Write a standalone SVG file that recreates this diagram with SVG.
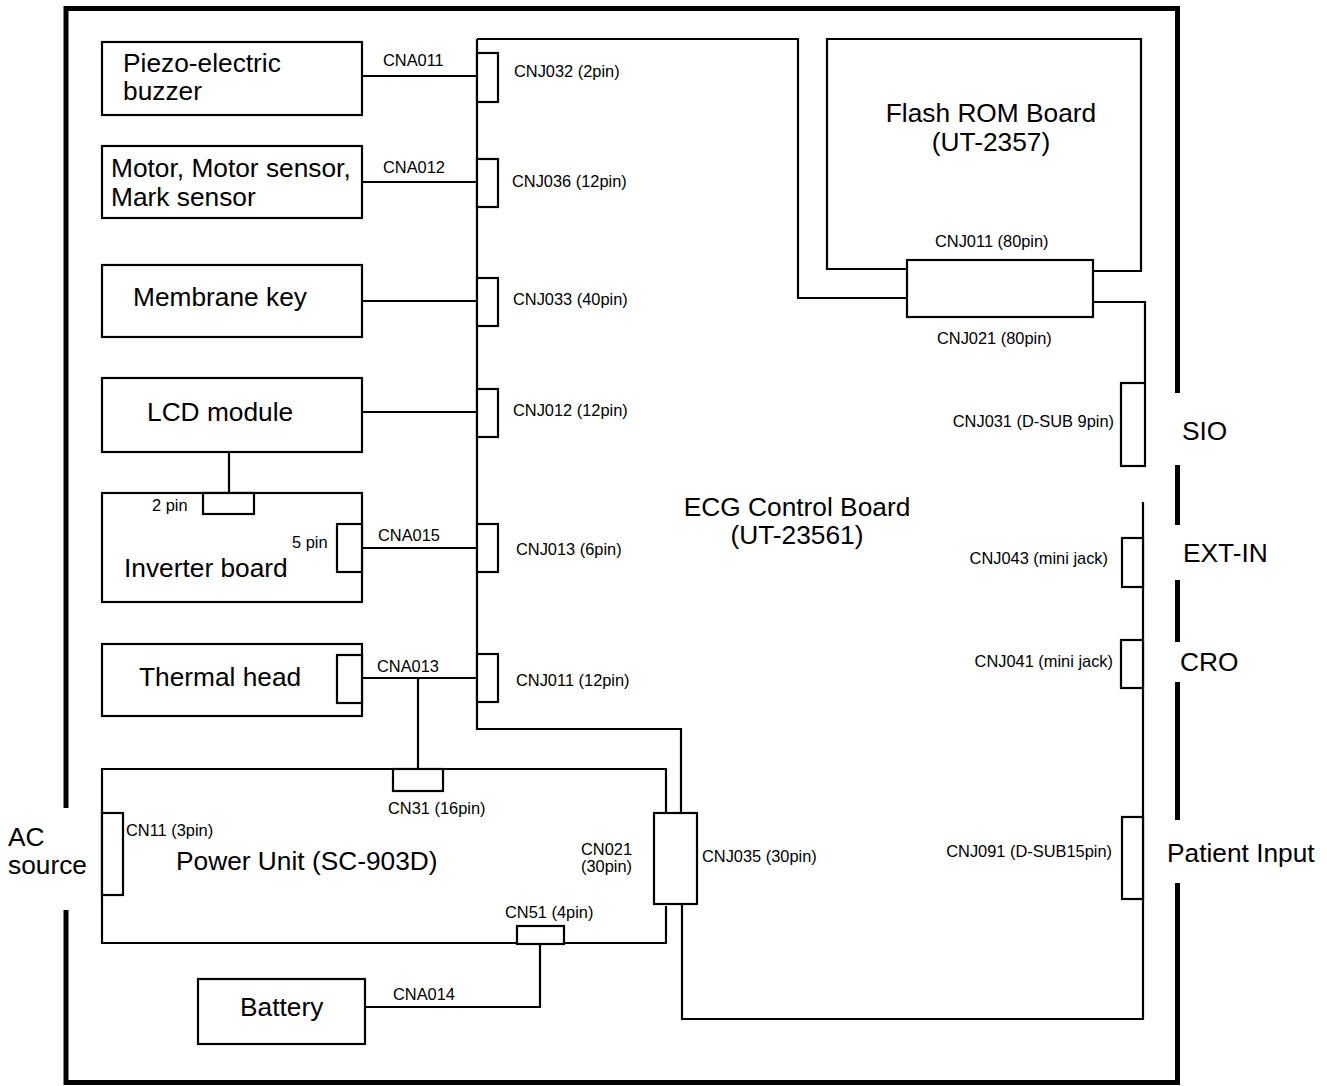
<svg xmlns="http://www.w3.org/2000/svg" width="1327" height="1086" viewBox="0 0 1327 1086">
<style>
.box{fill:#fff;stroke:#000;stroke-width:2.2}
.cn{fill:#fff;stroke:#000;stroke-width:2.2}
.w{fill:none;stroke:#000;stroke-width:2.2}
.fr{fill:none;stroke:#000;stroke-width:5}
.big{font-family:"Liberation Sans",Arial,sans-serif;font-size:26.3px;fill:#000}
.sm{font-family:"Liberation Sans",Arial,sans-serif;font-size:16.4px;fill:#000}
.mid{text-anchor:middle}
.end{text-anchor:end}
</style>
<rect width="1327" height="1086" fill="#fff"/>
<g id="frame">
<path class="fr" d="M66,808 V8.5 H1177.5 V393"/>
<path class="fr" d="M66,910 V1082.5 H1177.5 V883"/>
<path class="fr" d="M1177.5,465 V525 M1177.5,580 V642 M1177.5,682 V820"/>
</g>
<g id="connectors">
<path class="w" d="M477,39 V729 H681 V813"/>
<path class="w" d="M477,39 H798 V298 H907"/>
<path class="w" d="M362,76 H477 M362,182 H477 M362,301 H477 M362,412 H477 M362,548 H477 M362,678 H477"/>
<path class="w" d="M229,452 V493"/>
<path class="w" d="M418,678 V769"/>
<path class="w" d="M1093,302 H1145 V383"/>
<path class="w" d="M682,904 V1019 H1143 V502"/>
<path class="w" d="M540,944 V1007 H365"/>
</g>
<g id="piezo"><rect class="box" x="102" y="42" width="260" height="73"/>
<text class="big" x="123" y="72">Piezo-electric</text><text class="big" x="123" y="100">buzzer</text></g>
<g id="motor"><rect class="box" x="102" y="146" width="260" height="72"/>
<text class="big" x="111" y="177">Motor, Motor sensor,</text><text class="big" x="111" y="206">Mark sensor</text></g>
<g id="membrane"><rect class="box" x="102" y="265" width="260" height="72"/>
<text class="big" x="133" y="306">Membrane key</text></g>
<g id="lcd"><rect class="box" x="102" y="378" width="260" height="74"/>
<text class="big" x="147" y="421">LCD module</text></g>
<g id="inverter"><rect class="box" x="102" y="493" width="260" height="109"/>
<rect class="cn" x="203" y="493" width="51" height="21"/>
<rect class="cn" x="337" y="524" width="25" height="48"/>
<text class="sm" x="152" y="511">2 pin</text><text class="sm" x="292" y="548">5 pin</text>
<text class="big" x="124" y="577">Inverter board</text></g>
<g id="thermal"><rect class="box" x="102" y="644" width="260" height="72"/>
<rect class="cn" x="337" y="655" width="25" height="48"/>
<text class="big" x="139" y="686">Thermal head</text></g>
<g id="power"><path class="box" d="M666,812 V769 H102 V943 H666 V906"/>
<rect class="cn" x="393" y="769" width="50" height="22"/>
<rect class="cn" x="102" y="813" width="21" height="82"/>
<rect class="cn" x="517" y="926" width="47" height="18"/>
<text class="sm" x="388" y="814">CN31 (16pin)</text>
<text class="sm" x="126" y="836">CN11 (3pin)</text>
<text class="sm" x="505" y="918">CN51 (4pin)</text>
<text class="sm" x="581" y="855">CN021</text><text class="sm" x="581" y="872">(30pin)</text>
<text class="big" x="176" y="870">Power Unit (SC-903D)</text></g>
<g id="battery"><rect class="box" x="198" y="979" width="167" height="65"/>
<text class="big" x="240" y="1016">Battery</text></g>
<g id="flash"><path class="box" d="M907,269 H827 V39 H1141 V271 H1093"/>
<text class="big mid" x="991" y="122">Flash ROM Board</text><text class="big mid" x="991" y="151">(UT-2357)</text>
<rect class="cn" x="907" y="260" width="186" height="57"/>
<text class="sm" x="935" y="247">CNJ011 (80pin)</text><text class="sm" x="937" y="344">CNJ021 (80pin)</text></g>
<g id="ecg">
<text class="big mid" x="797" y="516">ECG Control Board</text><text class="big mid" x="797" y="544">(UT-23561)</text>
<rect class="cn" x="477" y="53" width="21" height="49"/><text class="sm" x="514" y="77">CNJ032 (2pin)</text>
<rect class="cn" x="477" y="159" width="21" height="48"/><text class="sm" x="512" y="187">CNJ036 (12pin)</text>
<rect class="cn" x="477" y="278" width="21" height="48"/><text class="sm" x="513" y="305">CNJ033 (40pin)</text>
<rect class="cn" x="477" y="389" width="21" height="48"/><text class="sm" x="513" y="416">CNJ012 (12pin)</text>
<rect class="cn" x="477" y="524" width="21" height="48"/><text class="sm" x="516" y="555">CNJ013 (6pin)</text>
<rect class="cn" x="477" y="654" width="21" height="48"/><text class="sm" x="516" y="686">CNJ011 (12pin)</text>
<rect class="cn" x="654" y="813" width="43" height="91"/><text class="sm" x="702" y="862">CNJ035 (30pin)</text>
<rect class="cn" x="1121" y="383" width="24" height="83"/><text class="sm end" x="1114" y="427">CNJ031 (D-SUB 9pin)</text>
<rect class="cn" x="1122" y="538" width="21" height="49"/><text class="sm end" x="1108" y="564">CNJ043 (mini jack)</text>
<rect class="cn" x="1121" y="640" width="22" height="48"/><text class="sm end" x="1113" y="667">CNJ041 (mini jack)</text>
<rect class="cn" x="1122" y="817" width="21" height="82"/><text class="sm end" x="1112" y="857">CNJ091 (D-SUB15pin)</text>
</g>
<g id="labels">
<text class="sm" x="383" y="66">CNA011</text>
<text class="sm" x="383" y="173">CNA012</text>
<text class="sm" x="378" y="541">CNA015</text>
<text class="sm" x="377" y="672">CNA013</text>
<text class="sm" x="393" y="1000">CNA014</text>
<text class="big" x="8" y="846">AC</text><text class="big" x="8" y="874">source</text>
<text class="big" x="1182" y="440">SIO</text>
<text class="big" x="1183" y="562">EXT-IN</text>
<text class="big" x="1180" y="671">CRO</text>
<text class="big" x="1167" y="862">Patient Input</text>
</g>
</svg>
